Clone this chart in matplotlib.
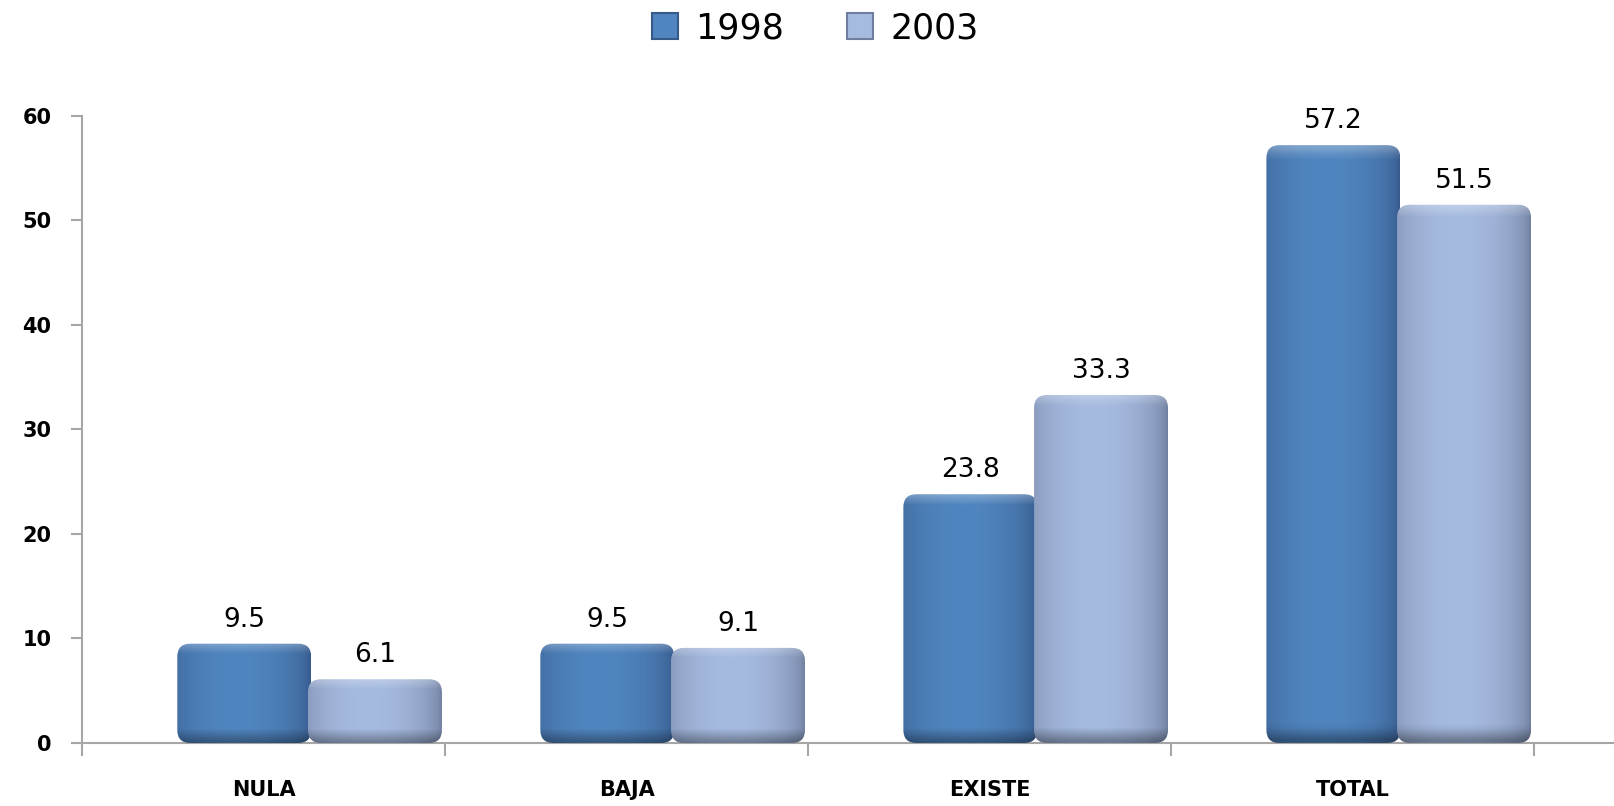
import matplotlib
matplotlib.use("Agg")
import matplotlib.pyplot as plt
import numpy as np
from matplotlib.patches import FancyBboxPatch, Patch
from matplotlib.colors import to_rgb

# datos
categorias = ["NULA", "BAJA", "EXISTE", "TOTAL"]
serie_1998 = [9.5, 9.5, 23.8, 57.2]
serie_2003 = [6.1, 9.1, 33.3, 51.5]
anios = ["1998", "2003"]

col_1998 = ("#36598a", "#5085bf")   # borde, centro
col_2003 = ("#6f7e9e", "#a6bbe0")

fig = plt.figure(figsize=(16.14, 8.06), dpi=100)
ax = fig.add_axes([0.0508, 0.0782, 0.9492, 0.778])
ax.set_xlim(-0.5, 3.72)
ax.set_ylim(0, 60)

x = np.arange(len(categorias))
ancho = 0.369
b1 = ax.bar(x - 0.053, serie_1998, ancho, alpha=0)
b2 = ax.bar(x + 0.307, serie_2003, ancho, alpha=0)

fig.canvas.draw()
# cuantas unidades y por unidad x en pantalla
p0 = ax.transData.transform((0, 0))
p1 = ax.transData.transform((1, 1))
px_x = p1[0] - p0[0]
px_y = p1[1] - p0[1]
aspecto = px_x / px_y


def gradiente(borde, centro):
    b = np.array(to_rgb(borde))
    c = np.array(to_rgb(centro))
    u = np.linspace(0, 1, 200)
    # perfil horizontal tipo cilindro, luz un poco a la izquierda del centro
    perfil = np.clip(1 - ((u - 0.45) / 0.55) ** 2, 0, 1) ** 0.6
    fila = b[None, :] + (c - b)[None, :] * perfil[:, None]
    img = np.repeat(fila[None, :, :], 100, axis=0)
    return img


def barra(rect, borde, centro):
    x0, w, h = rect.get_x(), rect.get_width(), rect.get_height()
    r = 13 / px_x
    caja = FancyBboxPatch((x0, 0), w, h,
                          boxstyle="round,pad=0,rounding_size=%f" % r,
                          mutation_aspect=aspecto, lw=0, fc="none", zorder=3)
    ax.add_patch(caja)
    img = gradiente(borde, centro)
    # sombra abajo, brillo arriba
    alto_px = h * px_y
    v = np.linspace(0, 1, img.shape[0])[:, None, None]  # 0 arriba
    abajo = np.clip((v * alto_px - (alto_px - 14)) / 14, 0, 1)
    arriba = np.clip(1 - v * alto_px / 10, 0, 1)
    img = img * (1 - 0.35 * abajo) + (1 - img) * 0.25 * arriba
    im = ax.imshow(np.clip(img, 0, 1), extent=(x0, x0 + w, 0, h),
                   aspect="auto", zorder=3, interpolation="bilinear")
    im.set_clip_path(caja)
    return caja


for rect in b1:
    barra(rect, *col_1998)
for rect in b2:
    barra(rect, *col_2003)
ax.set_xlim(-0.5, 3.72)
ax.set_ylim(0, 60)

for rect, v in zip(list(b1) + list(b2), serie_1998 + serie_2003):
    ax.annotate("%.1f" % v, (rect.get_x() + rect.get_width() / 2, v),
                xytext=(0, 8), textcoords="offset points",
                ha="center", va="bottom", fontsize=19, zorder=5)

gris = "#a6a6a6"
for s in ["top", "right"]:
    ax.spines[s].set_visible(False)
ax.spines["left"].set_color(gris)
ax.spines["bottom"].set_color(gris)
ax.spines["left"].set_linewidth(1.5)
ax.spines["bottom"].set_linewidth(1.5)
ax.spines["left"].set_bounds(0, 60)

ax.set_yticks(range(0, 61, 10))
ax.tick_params(axis="y", length=8, width=1.5, color=gris, pad=14,
               labelsize=15)
for t in ax.get_yticklabels():
    t.set_fontweight("bold")

ax.set_xticks(x)
ax.set_xticklabels(categorias, fontsize=15, fontweight="bold")
ax.tick_params(axis="x", which="major", length=0, pad=27)
ax.set_xticks(np.arange(-0.5, 3.6, 1), minor=True)
ax.tick_params(axis="x", which="minor", length=9, width=1.5, color=gris)

handles = [Patch(facecolor=col_1998[1], edgecolor=col_1998[0], lw=1.5),
           Patch(facecolor=col_2003[1], edgecolor=col_2003[0], lw=1.5)]
fig.legend(handles, anios, loc="upper center", bbox_to_anchor=(0.505, 1.025),
           ncol=2, frameon=False, fontsize=25, handlelength=0.75,
           handleheight=0.75, handletextpad=0.5, columnspacing=1.8)

fig.savefig("out.png", dpi=100)
